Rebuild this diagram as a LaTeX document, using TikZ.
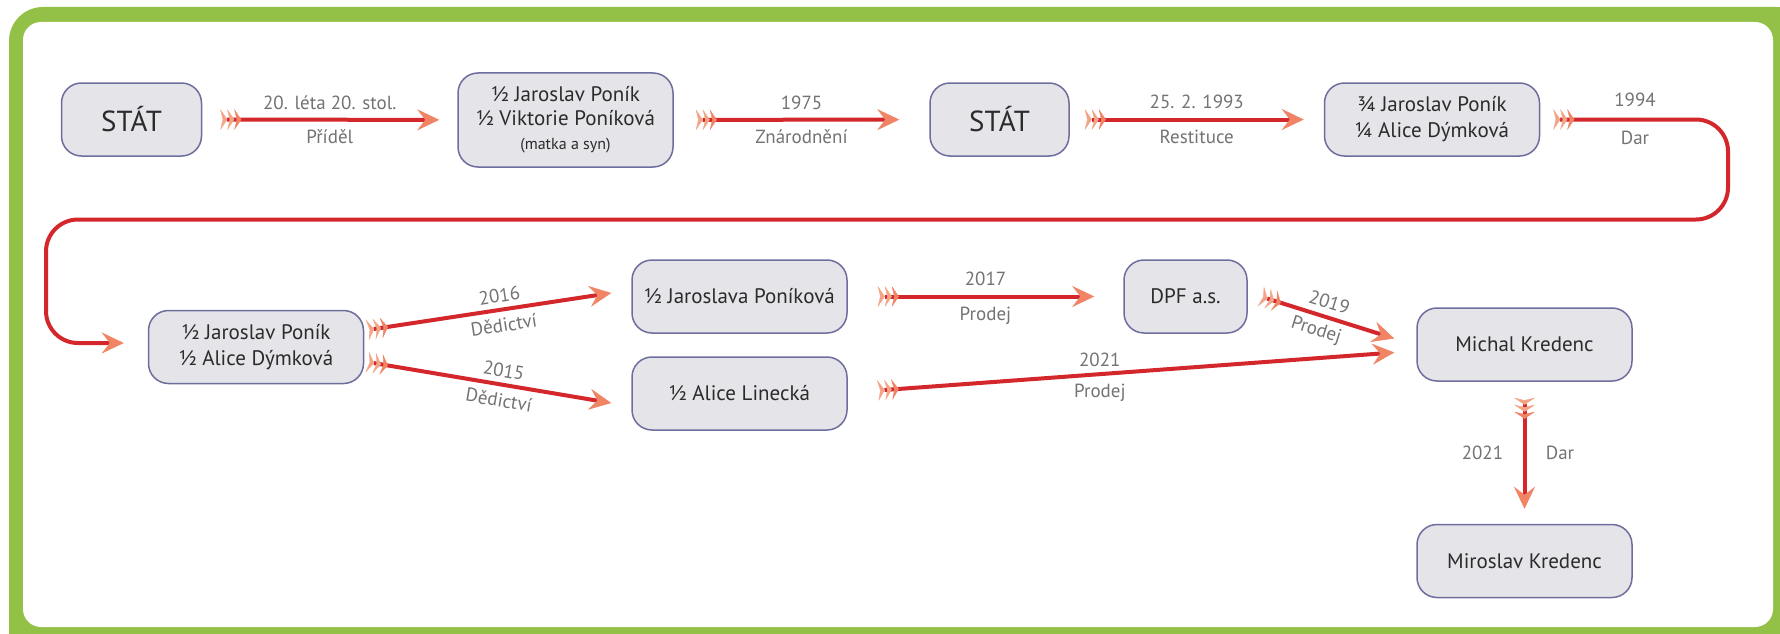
\documentclass[tikz,border=0pt]{standalone}
\usepackage{fontspec}
\setmainfont{PT Sans}
\usetikzlibrary{arrows.meta,calc}

\definecolor{framegreen}{HTML}{93C047}
\definecolor{boxfill}{HTML}{E4E4E9}
\definecolor{boxline}{HTML}{6E6E9E}
\definecolor{arrowred}{HTML}{D3272B}
\definecolor{tipsalmon}{HTML}{F08464}
\definecolor{feather}{HTML}{F4A486}
\definecolor{labelgray}{HTML}{737373}
\definecolor{textdark}{HTML}{2B2B2B}

\tikzset{
  owner/.style={draw=boxline, line width=1.5pt, fill=boxfill, rounded corners=20pt,
    align=center, text=textdark, font=\fontsize{21}{26}\selectfont,
    minimum width=215pt, minimum height=73pt, inner sep=0pt},
  transfer/.style={draw=arrowred, line width=4pt,
    arrows={Stealth[reversed,length=7pt,width=21pt,inset=2.5pt,line width=0.3pt,color=feather,sep=0pt]
            Stealth[reversed,length=7pt,width=21pt,inset=2.5pt,line width=0.3pt,color=feather,sep=0pt]
            Stealth[reversed,length=7pt,width=21pt,inset=2.5pt,line width=0.3pt,color=tipsalmon]
            -Stealth[length=22pt,width=21pt,inset=8pt,line width=0.5pt,color=tipsalmon]}},
  lbl/.style={text=labelgray, font=\fontsize{19}{22}\selectfont}
}

\begin{document}
\begin{tikzpicture}[x=1pt,y=-1pt]
\useasboundingbox (0,0) rectangle (1780,634);
% frame
\begin{scope}
\clip (0,0) rectangle (1780,634);
\fill[framegreen, rounded corners=34pt] (9,7) rectangle (1810,664);
\fill[white, rounded corners=18pt] (23,22) rectangle (1773,627);
\end{scope}

% owners
\node[owner, minimum width=140pt, font=\fontsize{29}{34}\selectfont] (stat1) at (131.5,119.5) {STÁT};
\node[owner, minimum height=94pt, font=\fontsize{21}{24}\selectfont] (box2) at (565.5,120)
  {½ Jaroslav Poník\\½ Viktorie Poníková\\{\fontsize{16}{22}\selectfont (matka a syn)}};
\node[owner, minimum width=139pt, font=\fontsize{29}{34}\selectfont] (stat2) at (999.5,119.5) {STÁT};
\node[owner] (box4) at (1432,119.5) {¾ Jaroslav Poník\\¼ Alice Dýmková};
\node[owner] (box5) at (256,347) {½ Jaroslav Poník\\½ Alice Dýmková};
\node[owner] (box6) at (739.5,296.5) {½ Jaroslava Poníková};
\node[owner] (box7) at (739.5,393.5) {½ Alice Linecká};
\node[owner, minimum width=123pt] (dpf) at (1185.5,296.5) {DPF a.s.};
\node[owner] (michal) at (1524.5,344.5) {Michal Kredenc};
\node[owner] (miroslav) at (1524.5,561) {Miroslav Kredenc};

% transfers
\draw[transfer, shorten <=18pt, shorten >=18pt] (stat1) -- node[lbl, above=5pt] {20. léta 20. stol.} node[lbl, below=5pt] {Příděl} (box2);
\draw[transfer, shorten <=22pt, shorten >=30pt] (box2) -- node[lbl, above=5pt] {1975} node[lbl, below=5pt] {Znárodnění} (stat2);
\draw[transfer, shorten <=15pt, shorten >=20pt] (stat2) -- node[lbl, above=5pt] {25. 2. 1993} node[lbl, below=5pt] {Restituce} (box4);
\draw[transfer, rounded corners=32pt] ($(box4.east)+(13,0)$) -- (1728,119.5) -- (1728,219.5) -- (46,219.5)
  -- (46,343) -- ($(box5.west)+(-24,-4)$);
\node[lbl] (dar1) at (1635,100) {1994};
\node[lbl] (dar2) at (1635,138) {Dar};

\draw[transfer] ($(box5.east)+(3,-17)$) -- node[lbl, sloped, pos=0.55, above=2pt] {2016} node[lbl, sloped, pos=0.55, below=3pt] {Dědictví} ($(box6.west)+(-20,-3.5)$);
\draw[transfer] ($(box5.east)+(3,15)$) -- node[lbl, sloped, pos=0.55, above=2pt] {2015} node[lbl, sloped, pos=0.55, below=3pt] {Dědictví} ($(box7.west)+(-20,9.5)$);
\draw[transfer, shorten <=30pt, shorten >=29pt] (box6) -- node[lbl, above=5pt] {2017} node[lbl, below=5pt] {Prodej} (dpf);
\draw[transfer] ($(dpf.east)+(13,0)$) -- node[lbl, sloped, pos=0.48, above=3pt] {2019} node[lbl, sloped, pos=0.45, below=2pt] {Prodej} ($(michal.west)+(-22,-6)$);
\draw[transfer] ($(box7.east)+(30,-3)$) -- node[lbl, pos=0.43, above=2pt] {2021} node[lbl, pos=0.43, below=5pt] {Prodej} ($(michal.west)+(-22,8)$);
\draw[transfer, shorten <=16pt, shorten >=15pt] (michal) -- node[lbl, left=16pt] {2021} node[lbl, right=16pt] {Dar} (miroslav);
\end{tikzpicture}
\end{document}
